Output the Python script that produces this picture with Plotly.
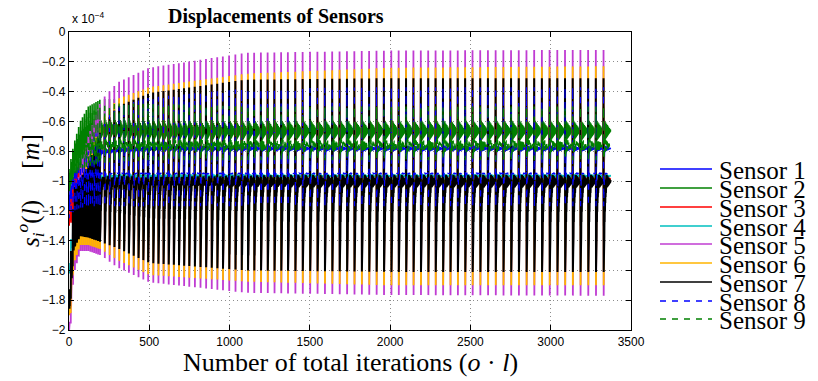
import numpy as np
import plotly.graph_objects as go

# ---------------------------------------------------------------------------
# Sensor displacement records (values in units of 1e-4 m)
# ---------------------------------------------------------------------------
sensor_names = ["Sensor 1", "Sensor 2", "Sensor 3", "Sensor 4", "Sensor 5",
                "Sensor 6", "Sensor 7", "Sensor 8", "Sensor 9"]
sensor_colors = ["#0000FF", "#008000", "#FF0000", "#00BFBF", "#C03CD2",
                 "#FFB400", "#000000", "#0000FF", "#008000"]
sensor_dash = ["solid"] * 7 + ["dash", "dash"]

# excitation schedule: (number of cycles, iterations per cycle)
cycle_runs = [(16, 12), (10, 30), (8, 32), (6, 35), (5, 39), (5, 42), (25, 46), (17, 48)]
tail_iterations = 46

# iterations at which the spike envelopes were recorded
env_iter = [0, 30, 70, 120, 200, 300, 500, 1100, 2000, 3330]

# spike maxima / minima / resting level per sensor
s1_top = [-1.05, -0.95, -0.85, -0.75, -0.62, -0.58, -0.55, -0.52, -0.52, -0.52]
s1_bot = [-1.20, -1.10, -1.02, -1.00, -1.00, -1.00, -1.00, -1.00, -1.00, -1.00]
s1_rest = [-1.10, -0.95, -0.88, -0.84, -0.80, -0.79, -0.78, -0.78, -0.78, -0.78]

s2_top = [-0.92, -0.75, -0.60, -0.50, -0.45, -0.45, -0.46, -0.48, -0.50, -0.50]
s2_bot = [-1.05, -0.95, -0.90, -0.88, -0.86, -0.85, -0.85, -0.85, -0.85, -0.85]
s2_rest = [-1.00, -0.82, -0.72, -0.67, -0.65, -0.65, -0.66, -0.66, -0.66, -0.66]

s3_top = [-1.20, -1.00, -0.90, -0.80, -0.70, -0.65, -0.62, -0.60, -0.60, -0.60]
s3_bot = [-1.30, -1.25, -1.25, -1.28, -1.30, -1.30, -1.30, -1.30, -1.30, -1.30]
s3_rest = [-1.25, -1.05, -1.00, -0.99, -0.985, -0.985, -0.985, -0.985, -0.985, -0.985]

s4_top = [-1.55, -1.15, -0.95, -0.85, -0.70, -0.62, -0.58, -0.55, -0.55, -0.55]
s4_bot = [-1.62, -1.30, -1.10, -1.20, -1.30, -1.30, -1.30, -1.30, -1.30, -1.30]
s4_rest = [-1.60, -1.20, -1.00, -0.98, -0.97, -0.965, -0.965, -0.965, -0.965, -0.965]

s5_top = [-1.95, -1.20, -0.90, -0.70, -0.46, -0.34, -0.24, -0.14, -0.125, -0.12]
s5_bot = [-2.00, -1.62, -1.47, -1.47, -1.50, -1.58, -1.68, -1.75, -1.765, -1.77]
s5_rest = [-1.95, -1.30, -1.05, -1.00, -1.00, -1.00, -1.00, -1.00, -1.00, -1.00]

s6_top = [-1.85, -1.30, -1.00, -0.85, -0.60, -0.45, -0.37, -0.28, -0.24, -0.23]
s6_bot = [-1.90, -1.55, -1.43, -1.43, -1.46, -1.53, -1.63, -1.675, -1.70, -1.70]
s6_rest = [-1.88, -1.25, -1.05, -1.00, -1.00, -1.00, -1.00, -1.00, -1.00, -1.00]

s7_top = [-1.75, -1.05, -0.98, -0.90, -0.65, -0.50, -0.41, -0.32, -0.31, -0.31]
s7_bot = [-1.80, -1.45, -1.37, -1.38, -1.41, -1.45, -1.55, -1.60, -1.61, -1.61]
s7_rest = [-1.78, -1.20, -1.02, -1.00, -1.00, -1.00, -1.00, -1.00, -1.00, -1.00]

s8_top = [-1.15, -1.00, -0.90, -0.80, -0.60, -0.50, -0.44, -0.38, -0.37, -0.37]
s8_bot = [-1.25, -1.20, -1.18, -1.17, -1.17, -1.17, -1.17, -1.17, -1.17, -1.17]
s8_rest = [-1.15, -1.00, -0.96, -0.95, -0.95, -0.95, -0.95, -0.95, -0.95, -0.95]

s9_top = [-0.98, -0.80, -0.65, -0.55, -0.50, -0.48, -0.48, -0.50, -0.50, -0.50]
s9_bot = [-1.05, -0.98, -0.92, -0.90, -0.88, -0.87, -0.86, -0.86, -0.86, -0.86]
s9_rest = [-1.00, -0.88, -0.80, -0.77, -0.76, -0.76, -0.76, -0.76, -0.76, -0.76]

# after each spike: fraction of the dip still present per iteration, and ringing amplitude
s1_recovery = [0.6, 0.4, 0.25, 0.15, 0.08, 0.04]
s2_recovery = [0.3, 0.1]
s3_recovery = [0.4, 0.15, 0.05]
s4_recovery = [0.4, 0.15, 0.05]
s5_recovery = [0.5, 0.2, 0.05]
s6_recovery = [0.5, 0.2, 0.05]
s7_recovery = [0.85, 0.72, 0.6, 0.5, 0.42, 0.35, 0.29, 0.24, 0.19, 0.15, 0.12, 0.09,
               0.07, 0.05, 0.035, 0.02, 0.01]
s8_recovery = [0.5, 0.25, 0.1, 0.04]
s9_recovery = [0.3, 0.1]
ring_amplitude = [0.02, 0.07, 0.01, 0.015, 0.0, 0.0, 0.07, 0.005, 0.05]
line_width = [1.6, 1.6, 1.6, 1.6, 1.8, 1.8, 2.0, 1.2, 1.3]

tops = [s1_top, s2_top, s3_top, s4_top, s5_top, s6_top, s7_top, s8_top, s9_top]
bots = [s1_bot, s2_bot, s3_bot, s4_bot, s5_bot, s6_bot, s7_bot, s8_bot, s9_bot]
rests = [s1_rest, s2_rest, s3_rest, s4_rest, s5_rest, s6_rest, s7_rest, s8_rest, s9_rest]
recoveries = [s1_recovery, s2_recovery, s3_recovery, s4_recovery, s5_recovery,
              s6_recovery, s7_recovery, s8_recovery, s9_recovery]

# spike instants
spike_times = [0]
for count, length in cycle_runs:
    for _ in range(count):
        spike_times.append(spike_times[-1] + length)
cycle_ends = spike_times[1:] + [spike_times[-1] + tail_iterations]


def sensor_series(top, bot, rest, recovery, ring):
    xs, ys = [0], [rest[0]]
    for t0, t1 in zip(spike_times, cycle_ends):
        u = float(np.interp(t0, env_iter, top))
        d = float(np.interp(t0, env_iter, bot))
        r = float(np.interp(t0, env_iter, rest))
        xs += [t0, t0 + 1]
        ys += [u, d]
        n = t1 - t0 - 2
        for k in range(n):
            frac = recovery[k] if k < len(recovery) else 0.0
            wobble = ring * (1 - k / n) * (1 if k % 2 == 0 else -1)
            xs.append(t0 + 2 + k)
            ys.append(r + frac * (d - r) + wobble)
    return xs, ys


fig = go.Figure()
for i in range(9):
    x, y = sensor_series(tops[i], bots[i], rests[i], recoveries[i], ring_amplitude[i])
    dash = "6px,7px" if sensor_dash[i] == "dash" else "solid"
    fig.add_trace(go.Scatter(
        x=x, y=y, mode="lines", name=sensor_names[i], showlegend=False,
        line=dict(color=sensor_colors[i], width=line_width[i], dash=dash),
        hoverinfo="skip",
    ))

# plot box in pixels
L, R, T, B = 69, 631, 32, 330
W, H = 818, 381


def px(xp):
    return (xp - L) / (R - L)


def py(yp):
    return (B - yp) / (B - T)


serif = "Liberation Serif, DejaVu Serif, serif"
sans = "Liberation Sans, Arial, sans-serif"

# legend drawn beside the axes
legend_y = [169, 188, 207, 226, 244, 263, 282, 301, 319]
shapes = []
annotations = []
for i in range(9):
    shapes.append(dict(type="line", xref="paper", yref="paper",
                       x0=px(660), x1=px(712), y0=py(legend_y[i]), y1=py(legend_y[i]),
                       line=dict(color=sensor_colors[i], width=1.3,
                                 dash="6px,6px" if sensor_dash[i] == "dash" else "solid")))
    annotations.append(dict(xref="paper", yref="paper", x=px(717), y=py(legend_y[i] + 1),
                            text=sensor_names[i], showarrow=False, xanchor="left",
                            yanchor="middle", font=dict(family=serif, size=25, color="#000")))

annotations += [
    dict(xref="paper", yref="paper", x=px(276), y=py(16), text="<b>Displacements of Sensors</b>",
         showarrow=False, xanchor="center", yanchor="middle",
         font=dict(family=serif, size=20, color="#000")),
    dict(xref="paper", yref="paper", x=px(70), y=py(18), text="x 10<sup>−4</sup>",
         showarrow=False, xanchor="left", yanchor="middle",
         font=dict(family=sans, size=12, color="#000")),
    dict(xref="paper", yref="paper", x=px(350), y=py(363),
         text="Number of total iterations (<i>o</i> · <i>l</i>)",
         showarrow=False, xanchor="center", yanchor="middle",
         font=dict(family=serif, size=26, color="#000")),
    dict(xref="paper", yref="paper", x=px(30), y=py(191),
         text="<i>s</i><sub><i>i</i></sub><sup><i>o</i></sup>(<i>l</i>)     [<i>m</i>]",
         showarrow=False, textangle=-90, xanchor="center", yanchor="middle",
         font=dict(family=serif, size=25, color="#000")),
]

axis_common = dict(
    showline=True, linecolor="#000", linewidth=1.2, mirror="ticks",
    ticks="inside", ticklen=5, tickcolor="#000",
    showgrid=True, gridcolor="#8c8c8c", griddash="1px,3px", gridwidth=1,
    zeroline=False, tickfont=dict(family=sans, size=12, color="#000"),
)

fig.update_layout(
    width=W, height=H, margin=dict(l=L, r=W - R, t=T, b=H - B),
    paper_bgcolor="#fff", plot_bgcolor="#fff",
    xaxis=dict(range=[0, 3500], tickmode="array", tickvals=list(range(0, 3501, 500)),
               ticktext=[str(v) for v in range(0, 3501, 500)], **axis_common),
    yaxis=dict(range=[-2, 0], tickmode="array",
               tickvals=[round(-0.2 * k, 1) for k in range(11)],
               ticktext=["0", "−0.2", "−0.4", "−0.6", "−0.8", "−1", "−1.2", "−1.4",
                         "−1.6", "−1.8", "−2"], **axis_common),
    shapes=shapes, annotations=annotations, showlegend=False,
)

fig.write_html("out.html")
